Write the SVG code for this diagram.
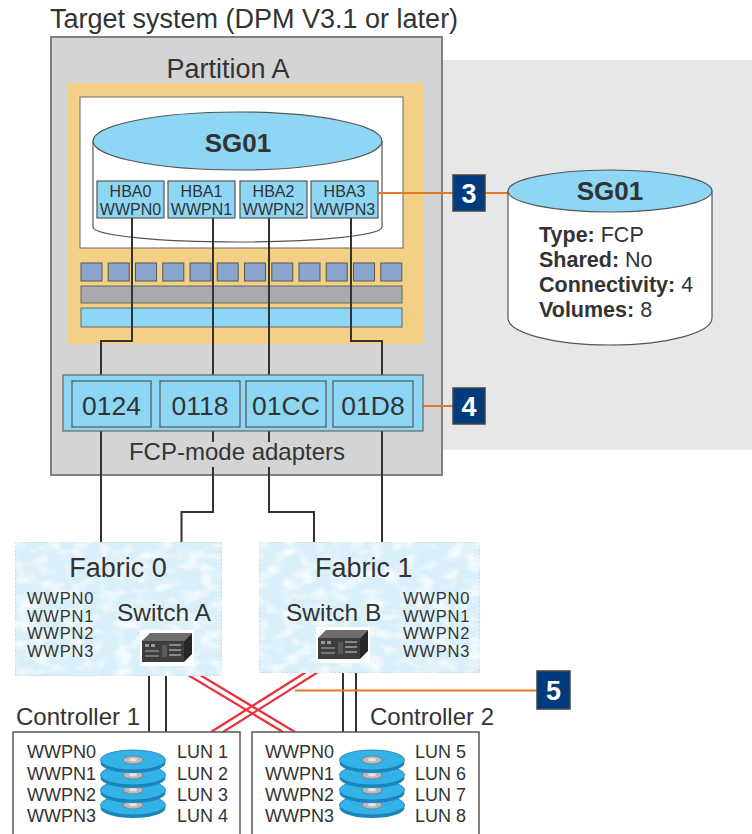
<svg xmlns="http://www.w3.org/2000/svg" width="752" height="834" viewBox="0 0 752 834">
  <style>
    text { font-family: "Liberation Sans", Arial, sans-serif; fill: #333; }
    .title { font-size: 27px; }
    .hba { fill: #8dd6f4; stroke: #555; stroke-width: 1.2; }
    .hbaT { font-size: 16px; text-anchor: middle; }
    .adT { font-size: 26.5px; text-anchor: middle; }
    .sq { fill: #8aa6cf; stroke: #555; stroke-width: 1; }
    .wire { fill: none; stroke: #333; stroke-width: 2; }
    .red { fill: none; stroke: #e8333a; stroke-width: 2.2; }
    .orange { fill: none; stroke: #e87722; stroke-width: 2; }
    .callout { fill: #003b7d; stroke: #444; stroke-width: 1.5; }
    .calloutT { font-size: 27px; font-weight: bold; fill: #fff; text-anchor: middle; }
    .fabric { fill: #d9eff9; stroke: #b9c4cc; stroke-width: 1; stroke-dasharray: 2 2; }
    .wwpn { font-size: 16.5px; letter-spacing: 0.8px; }
    .ctrl { fill: #fff; stroke: #555; stroke-width: 1.5; }
    .ctrlT { font-size: 18px; }
    .prop { font-size: 21.5px; }
    .b { font-weight: bold; }
  </style>
  <defs>
    <filter id="water" x="0" y="0" width="100%" height="100%">
      <feTurbulence type="fractalNoise" baseFrequency="0.06 0.1" numOctaves="2" seed="4" result="n"/>
      <feColorMatrix in="n" type="matrix" values="0 0 0 0 1  0 0 0 0 1  0 0 0 0 1  0 0 0 2 -0.85" result="w"/>
      <feComposite in="w" in2="SourceGraphic" operator="in" result="wc"/>
      <feMerge><feMergeNode in="SourceGraphic"/><feMergeNode in="wc"/></feMerge>
    </filter>
    <g id="disc">
      <ellipse cx="0" cy="3" rx="32.5" ry="10" fill="#1a86bd"/>
      <ellipse cx="0" cy="0" rx="32.5" ry="10" fill="#33b2e8" stroke="#1b78a8" stroke-width="0.8"/>
      <ellipse cx="0" cy="0" rx="10" ry="4" fill="#b9bcbf" stroke="#777" stroke-width="0.8"/>
      <ellipse cx="0" cy="-0.3" rx="4" ry="1.6" fill="#e4e4e4"/>
    </g>
    <g id="stack">
      <use href="#disc" y="45"/>
      <use href="#disc" y="30"/>
      <use href="#disc" y="15"/>
      <use href="#disc" y="0"/>
    </g>
    <g id="switch">
      <rect x="-2" y="-3" width="54" height="36" fill="#fff"/>
      <polygon points="0,8 8,0 50,0 42,8" fill="#6d6d6d"/>
      <rect x="0" y="8" width="42" height="21" fill="#3d3d3d"/>
      <polygon points="42,8 50,0 50,21 42,29" fill="#262626"/>
      <rect x="3" y="11" width="4" height="3" fill="#9a9a9a"/>
      <rect x="9" y="11" width="4" height="3" fill="#9a9a9a"/>
      <rect x="3" y="17" width="14" height="2" fill="#777"/>
      <rect x="3" y="22" width="14" height="2" fill="#777"/>
      <rect x="20" y="12" width="5" height="12" fill="#5a5a5a"/>
      <rect x="27" y="11" width="12" height="2" fill="#888"/>
      <rect x="27" y="16" width="12" height="2" fill="#888"/>
      <rect x="27" y="21" width="12" height="2" fill="#888"/>
    </g>
  </defs>

  <rect width="752" height="834" fill="#fff"/>

  <!-- backdrop for the storage group detail -->
  <rect x="442" y="60" width="310" height="390" fill="#e6e7e8"/>

  <!-- target system -->
  <g id="target-system">
    <text class="title" x="50" y="28">Target system (DPM V3.1 or later)</text>
    <rect x="51" y="37" width="391" height="438" fill="#d3d4d6" stroke="#808080" stroke-width="2"/>
  </g>

  <!-- partition -->
  <g id="partition-a">
    <text class="title" x="228" y="78" text-anchor="middle">Partition A</text>
    <rect x="67" y="83" width="356" height="261" fill="#f3d085"/>
    <rect x="80" y="97" width="323" height="151" fill="#fff" stroke="#666" stroke-width="1"/>
    <g id="sg01-partition">
      <path d="M93,141 L93,227 A144.5,15 0 0 0 382,227 L382,141" fill="#fff" stroke="#555" stroke-width="1.2"/>
      <ellipse cx="237.5" cy="141" rx="144.5" ry="29" fill="#8dd6f4" stroke="#555" stroke-width="1.2"/>
      <text x="238" y="152" font-size="26" font-weight="bold" text-anchor="middle">SG01</text>
    </g>
    <g id="hba0"><rect class="hba" x="97" y="181" width="67" height="37"/><text class="hbaT" x="130.5" y="197">HBA0</text><text class="hbaT" x="130.5" y="215">WWPN0</text></g>
    <g id="hba1"><rect class="hba" x="168" y="181" width="67" height="37"/><text class="hbaT" x="201.5" y="197">HBA1</text><text class="hbaT" x="201.5" y="215">WWPN1</text></g>
    <g id="hba2"><rect class="hba" x="240" y="181" width="67" height="37"/><text class="hbaT" x="273.5" y="197">HBA2</text><text class="hbaT" x="273.5" y="215">WWPN2</text></g>
    <g id="hba3"><rect class="hba" x="311" y="181" width="67" height="37"/><text class="hbaT" x="344.5" y="197">HBA3</text><text class="hbaT" x="344.5" y="215">WWPN3</text></g>
    <g id="resources">
      <rect class="sq" x="81" y="263" width="21" height="18"/>
      <rect class="sq" x="108.2" y="263" width="21" height="18"/>
      <rect class="sq" x="135.5" y="263" width="21" height="18"/>
      <rect class="sq" x="162.8" y="263" width="21" height="18"/>
      <rect class="sq" x="190" y="263" width="21" height="18"/>
      <rect class="sq" x="217.2" y="263" width="21" height="18"/>
      <rect class="sq" x="244.5" y="263" width="21" height="18"/>
      <rect class="sq" x="271.8" y="263" width="21" height="18"/>
      <rect class="sq" x="299" y="263" width="21" height="18"/>
      <rect class="sq" x="326.2" y="263" width="21" height="18"/>
      <rect class="sq" x="353.5" y="263" width="21" height="18"/>
      <rect class="sq" x="380.8" y="263" width="21" height="18"/>
      <rect x="81" y="286" width="321" height="17" fill="#a7a9ac" stroke="#666" stroke-width="1"/>
      <rect x="81" y="308" width="321" height="19" fill="#8dd6f4" stroke="#666" stroke-width="1"/>
    </g>
  </g>

  <!-- connectors -->
  <g id="connectors">
    <path class="wire" d="M132,218 V341 H101 V543"/>
    <path class="wire" d="M213,218 V512 H181.5 V543"/>
    <path class="wire" d="M269,218 V512 H314 V543"/>
    <path class="wire" d="M351,218 V341 H382 V543"/>
    <path class="wire" d="M149,663 V732 M166,663 V732"/>
    <path class="wire" d="M343,662 V732 M356,662 V732"/>
    <path class="red" d="M168,663 L283,732 M180,663 L295,732"/>
    <path class="red" d="M322,662 L211,732 M334,662 L223,732"/>
    <path class="orange" d="M378,193 H453 M485,193 H508"/>
    <path class="orange" d="M423,406 H453"/>
    <path class="orange" d="M295,690.5 H537"/>
  </g>

  <!-- FCP-mode adapters -->
  <g id="adapters">
    <rect x="63" y="375" width="360" height="56" fill="#8dd6f4" stroke="#666" stroke-width="1.2"/>
    <g id="adapter-0124"><rect x="72" y="381" width="79" height="46" fill="#8dd6f4" stroke="#555" stroke-width="1.2"/><text class="adT" x="111.5" y="415">0124</text></g>
    <g id="adapter-0118"><rect x="160" y="381" width="80" height="46" fill="#8dd6f4" stroke="#555" stroke-width="1.2"/><text class="adT" x="200" y="415">0118</text></g>
    <g id="adapter-01CC"><rect x="246" y="381" width="80" height="46" fill="#8dd6f4" stroke="#555" stroke-width="1.2"/><text class="adT" x="286" y="415">01CC</text></g>
    <g id="adapter-01D8"><rect x="333" y="381" width="80" height="46" fill="#8dd6f4" stroke="#555" stroke-width="1.2"/><text class="adT" x="373" y="415">01D8</text></g>
    <rect x="125" y="442" width="224" height="25" fill="#d3d4d6"/>
    <text x="237" y="460" font-size="24" text-anchor="middle">FCP-mode adapters</text>
  </g>

  <!-- storage group detail -->
  <g id="sg01-detail">
    <path d="M508,191 L508,318 A102,27 0 0 0 712,318 L712,191" fill="#fff" stroke="#555" stroke-width="1.2"/>
    <ellipse cx="610" cy="191" rx="102" ry="21" fill="#8dd6f4" stroke="#555" stroke-width="1.2"/>
    <text x="610" y="200" font-size="26" font-weight="bold" text-anchor="middle">SG01</text>
    <text class="prop" x="539" y="242"><tspan class="b">Type:</tspan> FCP</text>
    <text class="prop" x="539" y="267"><tspan class="b">Shared:</tspan> No</text>
    <text class="prop" x="539" y="292"><tspan class="b">Connectivity:</tspan> 4</text>
    <text class="prop" x="539" y="317"><tspan class="b">Volumes:</tspan> 8</text>
  </g>

  <!-- callouts -->
  <g id="callout-3"><rect class="callout" x="453" y="175" width="32" height="36"/><text class="calloutT" x="469" y="203">3</text></g>
  <g id="callout-4"><rect class="callout" x="453" y="388" width="32" height="36"/><text class="calloutT" x="469" y="416">4</text></g>
  <g id="callout-5"><rect class="callout" x="537" y="671" width="33" height="38"/><text class="calloutT" x="553.5" y="700">5</text></g>

  <!-- fabrics -->
  <g id="fabric-0">
    <rect class="fabric" x="15" y="542" width="207" height="134" filter="url(#water)"/>
    <text x="118" y="577" font-size="27" text-anchor="middle">Fabric 0</text>
    <text class="wwpn" x="27" y="604">WWPN0</text>
    <text class="wwpn" x="27" y="621.5">WWPN1</text>
    <text class="wwpn" x="27" y="639">WWPN2</text>
    <text class="wwpn" x="27" y="656.5">WWPN3</text>
    <text x="117" y="621" font-size="24.5">Switch A</text>
    <use href="#switch" x="142" y="633"/>
  </g>
  <g id="fabric-1">
    <rect class="fabric" x="259" y="542" width="221" height="131" filter="url(#water)"/>
    <text x="315" y="577" font-size="27">Fabric 1</text>
    <text x="286" y="621" font-size="24.5">Switch B</text>
    <text class="wwpn" x="403" y="604">WWPN0</text>
    <text class="wwpn" x="403" y="621.5">WWPN1</text>
    <text class="wwpn" x="403" y="639">WWPN2</text>
    <text class="wwpn" x="403" y="656.5">WWPN3</text>
    <use href="#switch" x="318" y="630"/>
  </g>

  <!-- storage controllers -->
  <g id="controller-1">
    <text x="16" y="725" font-size="24">Controller 1</text>
    <rect class="ctrl" x="13" y="732" width="227" height="110"/>
    <text class="ctrlT" x="27" y="758">WWPN0</text>
    <text class="ctrlT" x="27" y="780">WWPN1</text>
    <text class="ctrlT" x="27" y="801">WWPN2</text>
    <text class="ctrlT" x="27" y="822">WWPN3</text>
    <use href="#stack" x="133" y="760"/>
    <text class="ctrlT" x="177" y="758">LUN 1</text>
    <text class="ctrlT" x="177" y="780">LUN 2</text>
    <text class="ctrlT" x="177" y="801">LUN 3</text>
    <text class="ctrlT" x="177" y="822">LUN 4</text>
  </g>
  <g id="controller-2">
    <text x="370" y="725" font-size="24">Controller 2</text>
    <rect class="ctrl" x="252" y="732" width="227" height="110"/>
    <text class="ctrlT" x="265" y="758">WWPN0</text>
    <text class="ctrlT" x="265" y="780">WWPN1</text>
    <text class="ctrlT" x="265" y="801">WWPN2</text>
    <text class="ctrlT" x="265" y="822">WWPN3</text>
    <use href="#stack" x="372" y="760"/>
    <text class="ctrlT" x="415" y="758">LUN 5</text>
    <text class="ctrlT" x="415" y="780">LUN 6</text>
    <text class="ctrlT" x="415" y="801">LUN 7</text>
    <text class="ctrlT" x="415" y="822">LUN 8</text>
  </g>
</svg>
